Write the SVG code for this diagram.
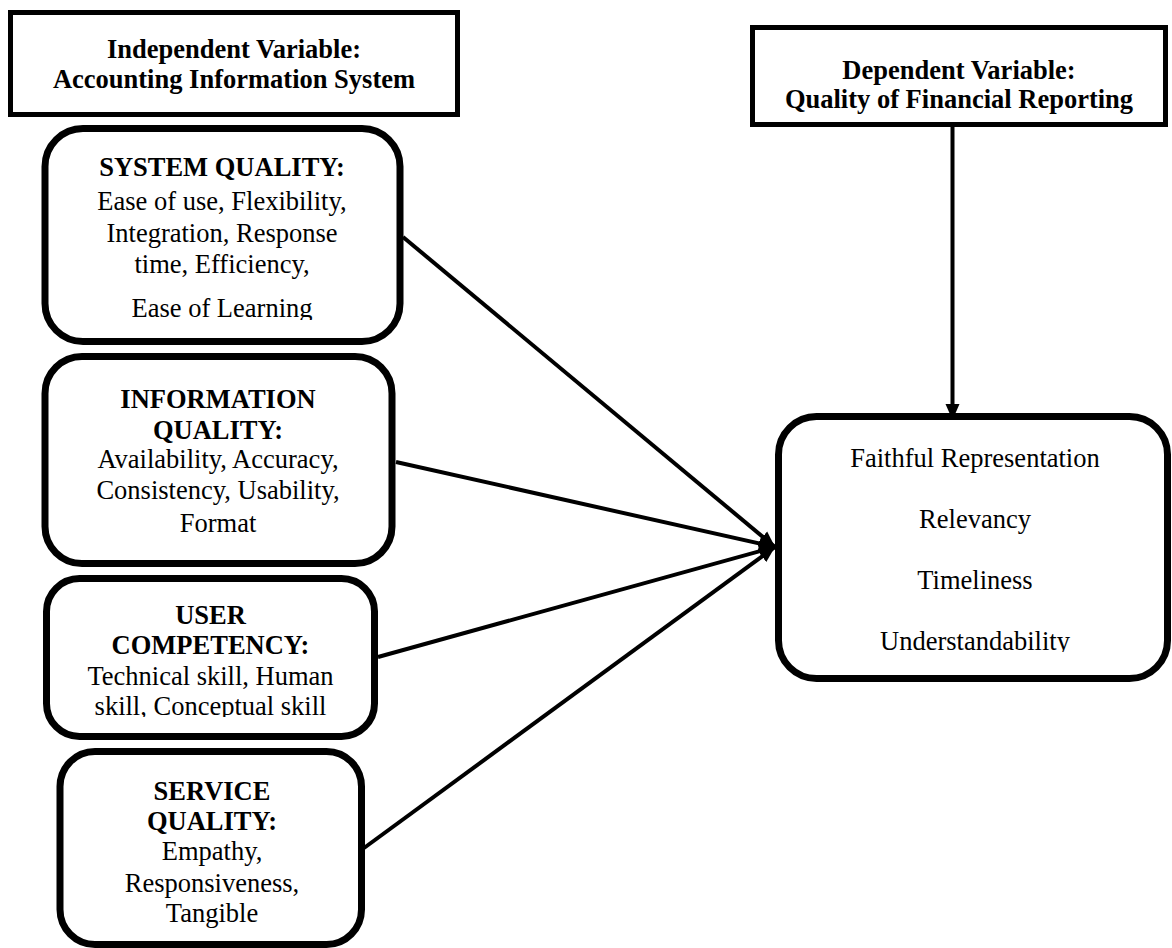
<svg xmlns="http://www.w3.org/2000/svg" width="1172" height="948" viewBox="0 0 1172 948">
<style>
.hdr{fill:#fff;stroke:#000;stroke-width:5}
.box{fill:#fff;stroke:#000;stroke-width:7}
text{font-family:"Liberation Serif","Times New Roman",serif;font-size:26.5px;fill:#000;text-anchor:middle}
.b{font-weight:bold}
.conn{stroke:#000;stroke-width:4;fill:none}
</style>
<defs>
<marker id="arr" markerUnits="userSpaceOnUse" markerWidth="18" markerHeight="16" refX="16" refY="8" orient="auto">
<path d="M0,1 L16,8 L0,15 Z" fill="#000"/>
</marker>
<clipPath id="c1"><rect x="0" y="0" width="1172" height="320"/></clipPath>
<clipPath id="c2"><rect x="0" y="0" width="1172" height="717"/></clipPath>
<clipPath id="c3"><rect x="0" y="0" width="1172" height="652"/></clipPath>
</defs>
<rect width="1172" height="948" fill="#fff"/>
<g id="connectors">
<line class="conn" x1="952.5" y1="125" x2="952.5" y2="420" marker-end="url(#arr)"/>
<line class="conn" x1="403" y1="237" x2="775" y2="547" marker-end="url(#arr)"/>
<line class="conn" x1="396" y1="462" x2="775" y2="547" marker-end="url(#arr)"/>
<line class="conn" x1="378" y1="657" x2="775" y2="547" marker-end="url(#arr)"/>
<line class="conn" x1="364" y1="848" x2="775" y2="547" marker-end="url(#arr)"/>
</g>
<g id="independent">
<rect class="hdr" x="10.5" y="12.5" width="447" height="102"/>
<text class="b" x="234" y="58">Independent Variable:</text>
<text class="b" x="234" y="87.5">Accounting Information System</text>
</g>
<g id="dependent">
<rect class="hdr" x="752.5" y="27.5" width="413" height="97"/>
<text class="b" x="959" y="78.5">Dependent Variable:</text>
<text class="b" x="959" y="108">Quality of Financial Reporting</text>
</g>
<g id="system-quality">
<rect class="box" x="45" y="128.5" width="355" height="213" rx="38"/>
<text class="b" x="222" y="176">SYSTEM QUALITY:</text>
<text x="222" y="210">Ease of use, Flexibility,</text>
<text x="222" y="242">Integration, Response</text>
<text x="222" y="273">time, Efficiency,</text>
<text x="222" y="317" clip-path="url(#c1)">Ease of Learning</text>
</g>
<g id="information-quality">
<rect class="box" x="45" y="356.5" width="347" height="207" rx="37"/>
<text class="b" x="218" y="408">INFORMATION</text>
<text class="b" x="218" y="439">QUALITY:</text>
<text x="218" y="468">Availability, Accuracy,</text>
<text x="218" y="499">Consistency, Usability,</text>
<text x="218" y="532">Format</text>
</g>
<g id="user-competency">
<rect class="box" x="46.5" y="578.5" width="328" height="158" rx="33"/>
<text class="b" x="210.5" y="624">USER</text>
<text class="b" x="210.5" y="654">COMPETENCY:</text>
<text x="210.5" y="685">Technical skill, Human</text>
<text x="210.5" y="715" clip-path="url(#c2)">skill, Conceptual skill</text>
</g>
<g id="service-quality">
<rect class="box" x="60" y="751.5" width="301.5" height="193" rx="35"/>
<text class="b" x="212" y="800">SERVICE</text>
<text class="b" x="212" y="830">QUALITY:</text>
<text x="212" y="860">Empathy,</text>
<text x="212" y="892">Responsiveness,</text>
<text x="212" y="922">Tangible</text>
</g>
<g id="financial-reporting">
<rect class="box" x="778.5" y="416.5" width="389" height="262" rx="38"/>
<text x="975" y="467">Faithful Representation</text>
<text x="975" y="528">Relevancy</text>
<text x="975" y="589">Timeliness</text>
<text x="975" y="650" clip-path="url(#c3)">Understandability</text>
</g>
</svg>
